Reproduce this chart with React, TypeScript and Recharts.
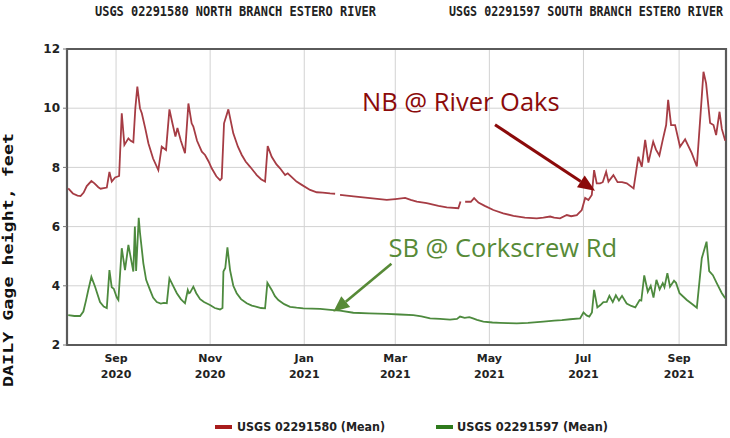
import React from 'react';
import { LineChart, Line, XAxis, YAxis, CartesianGrid, ReferenceArea, ReferenceDot } from 'recharts';

// Day 0 = 1 Aug 2020
const nbDays = [0, 3, 6, 8, 10, 12, 15, 17, 19.5, 21, 23, 25, 26.7, 28.2, 30.4, 33, 34.7, 36.4, 39, 40.5, 42.2, 43.5, 44.8, 46.5, 47.7, 50, 52, 55, 58.4, 60.6, 63.4, 65.6, 67.5, 69.5, 70.8, 73, 75.7, 77.9, 80, 81.1, 83.5, 86.6, 88.7, 91, 93, 96, 98.4, 99.5, 101, 103.8, 107, 110, 112.5, 115, 117.9, 122.2, 125, 127.6, 129.3, 131.9, 135, 137.3, 140.6, 142.3, 144.9, 148, 151.4, 156.8, 161.1, 165, 169.7, 173, 174.5, 176.2, 185, 195.7, 206.5, 212, 218.4, 222, 226, 232.4, 240, 245.4, 252.9, 254.3, 255.5, 257.3, 261, 263.1, 265.9, 270, 275.6, 282, 288.6, 296, 303.7, 308, 312.4, 315, 318.8, 323.2, 326, 329.7, 332.9, 335.1, 337.2, 339.4, 340.9, 342.6, 344.8, 346.5, 348.7, 350.2, 353.4, 356.1, 359, 362.1, 366.5, 369.6, 371.8, 374, 376.1, 379.2, 381, 383.2, 385.4, 387.6, 388.9, 390.8, 393.4, 396.6, 399.9, 404.2, 407.5, 410.7, 411.8, 413.5, 416.1, 418.3, 420, 422.2, 423.7, 425.9];
const nbGage = [7.29, 7.12, 7.05, 7.03, 7.15, 7.37, 7.54, 7.46, 7.33, 7.28, 7.3, 7.32, 7.85, 7.52, 7.66, 7.71, 9.83, 8.76, 8.98, 8.9, 8.85, 10.0, 10.73, 10.0, 9.83, 9.3, 8.81, 8.3, 7.91, 8.7, 8.59, 9.96, 9.5, 9.04, 9.33, 8.9, 8.48, 10.16, 9.49, 9.38, 8.9, 8.53, 8.42, 8.2, 7.97, 7.7, 7.57, 7.63, 9.49, 9.96, 9.15, 8.7, 8.42, 8.2, 8.02, 7.74, 7.6, 7.52, 8.72, 8.36, 8.1, 7.97, 7.74, 7.8, 7.67, 7.52, 7.41, 7.24, 7.16, 7.15, 7.12, 7.11, null, 7.07, 7.02, 6.96, 6.9, 6.93, 6.97, 6.9, 6.84, 6.79, 6.7, 6.65, 6.62, 6.85, null, 6.84, 6.84, 6.96, 6.81, 6.7, 6.56, 6.45, 6.36, 6.3, 6.28, 6.3, 6.34, 6.3, 6.28, 6.39, 6.35, 6.39, 6.56, 6.97, 6.9, 7.07, 7.91, 7.46, 7.46, 7.5, 7.85, 7.52, 7.74, 7.5, 7.5, 7.46, 7.29, 8.36, 8.02, 8.93, 8.16, 8.87, 8.6, 8.4, 8.93, 9.43, 10.28, 9.43, 9.43, 8.7, 8.95, 8.48, 8.03, 10.39, 11.23, 10.84, 9.5, 9.43, 9.09, 9.88, 9.3, 8.9];

const sbDays = [0, 4, 7.7, 9.8, 11.5, 13, 15, 17.4, 20.6, 23, 25, 26.7, 28.2, 29.5, 31.5, 32.5, 34.7, 36.8, 39, 42.2, 43.2, 44, 45.7, 46.5, 48.7, 50.5, 53, 55, 57.4, 60, 62, 63.9, 65.6, 68, 70.4, 73, 75.7, 77.5, 78.3, 79, 81.1, 83, 85.5, 88, 91.9, 95, 98.4, 100, 100.6, 101.8, 103.2, 104.9, 107, 109.2, 112, 115.7, 119, 122.2, 125, 127.6, 129.1, 131.9, 134, 136.2, 140, 143.8, 148, 152.4, 158, 163.3, 170, 176.2, 184.8, 195, 206.5, 215, 223.7, 229, 234.6, 241, 247.5, 252, 254, 257, 260, 262.4, 265, 269.1, 275, 279.9, 285, 290.8, 298, 308, 315, 320, 325.3, 331.8, 334, 336, 337.8, 339.5, 340.9, 343, 345, 346.9, 349.1, 350.8, 353, 355, 357, 359, 362, 365, 367.6, 370.4, 371.5, 373.4, 375.7, 377.6, 379.4, 381.3, 383.4, 385.4, 386.5, 388.4, 390.1, 392.7, 394, 396.3, 401, 404, 407.5, 410.7, 413.8, 415.5, 417.9, 420.4, 423.7, 425.9];
const sbGage = [3.01, 2.98, 2.98, 3.13, 3.5, 3.86, 4.3, 3.97, 3.45, 3.3, 3.25, 4.53, 3.95, 3.9, 3.6, 3.52, 5.27, 4.53, 5.38, 4.48, 6.0, 4.5, 6.3, 5.8, 4.76, 4.2, 3.86, 3.6, 3.45, 3.4, 3.42, 3.41, 4.25, 4.0, 3.75, 3.55, 3.41, 3.86, 3.75, 3.77, 3.97, 3.75, 3.55, 3.45, 3.35, 3.25, 3.2, 3.25, 4.48, 4.6, 5.3, 4.53, 4.0, 3.75, 3.55, 3.41, 3.33, 3.29, 3.25, 3.24, 4.1, 3.86, 3.65, 3.52, 3.38, 3.29, 3.26, 3.24, 3.23, 3.22, 3.19, 3.16, 3.09, 3.07, 3.05, 3.03, 3.01, 2.97, 2.9, 2.88, 2.86, 2.88, 2.96, 2.92, 2.94, 2.9, 2.85, 2.79, 2.76, 2.75, 2.74, 2.73, 2.75, 2.79, 2.82, 2.84, 2.87, 2.9, 3.1, 3.0, 2.96, 3.1, 3.86, 3.27, 3.35, 3.45, 3.46, 3.66, 3.45, 3.68, 3.5, 3.66, 3.4, 3.32, 3.27, 3.52, 3.5, 4.35, 3.8, 4.0, 3.6, 4.2, 3.88, 4.09, 3.95, 4.43, 3.97, 4.17, 4.1, 3.75, 3.52, 3.4, 3.26, 4.93, 5.49, 4.5, 4.36, 4.09, 3.75, 3.58];

const tickDays = [31, 92, 153, 212, 273, 334, 396];
const tickMonths = ['Sep', 'Nov', 'Jan', 'Mar', 'May', 'Jul', 'Sep'];
const tickYears = ['2020', '2020', '2021', '2021', '2021', '2021', '2021'];
const yTicks = [2, 4, 6, 8, 10, 12];

const nbName = 'USGS 02291580 (Mean)';
const sbName = 'USGS 02291597 (Mean)';
const nbTitle = 'USGS 02291580 NORTH BRANCH ESTERO RIVER';
const sbTitle = 'USGS 02291597 SOUTH BRANCH ESTERO RIVER';
const nbNote = 'NB @ River Oaks';
const sbNote = 'SB @ Corkscrew Rd';
const nbNotePoint = { day: 341.5, value: 7.21 };
const sbNotePoint = { day: 171.9, value: 3.12 };

const nbData = nbDays.map((d, i) => ({ day: d, v: nbGage[i] }));
const sbData = sbDays.map((d, i) => ({ day: d, v: sbGage[i] }));

const NB_COLOR = '#a63c44';
const SB_COLOR = '#4d8a3e';
const NB_NOTE = '#8b0a0a';
const SB_NOTE = '#578a37';

const XTick = (props: any) => {
  const { x, y, payload } = props;
  const i = tickDays.indexOf(payload.value);
  return (
    <g>
      <text x={x} y={y + 17} textAnchor="middle" fontFamily="DejaVu Sans" fontWeight="bold" fontSize={11} fill="#222">{tickMonths[i]}</text>
      <text x={x} y={y + 33} textAnchor="middle" fontFamily="DejaVu Sans" fontWeight="bold" fontSize={11} fill="#222">{tickYears[i]}</text>
    </g>
  );
};

const arrow = (cx: number, cy: number, tx: number, ty: number, color: string, w: number, hl: number, hw: number) => {
  const a = Math.atan2(cy - ty, cx - tx);
  const bx = cx - hl * Math.cos(a);
  const by = cy - hl * Math.sin(a);
  const s = Math.sin(a), c = Math.cos(a);
  return (
    <g>
      <line x1={tx} y1={ty} x2={bx} y2={by} stroke={color} strokeWidth={w} />
      <polygon points={`${cx},${cy} ${bx + hw * s},${by - hw * c} ${bx - hw * s},${by + hw * c}`} fill={color} />
    </g>
  );
};

const NbShape = (props: any) => {
  const { cx, cy } = props;
  return (
    <g>
      {arrow(cx, cy, cx - 100, cy - 66, NB_NOTE, 3, 17, 7)}
      <text x={cx - 233} y={cy - 80} fontFamily="Open Sans" fontSize={25.5} fill={NB_NOTE}>{nbNote}</text>
    </g>
  );
};

const SbShape = (props: any) => {
  const { cx, cy } = props;
  return (
    <g>
      {arrow(cx, cy, cx + 58, cy - 48, SB_NOTE, 2.6, 16, 7)}
      <text x={cx + 55} y={cy - 55} fontFamily="Open Sans" fontSize={25.5} fill={SB_NOTE}>{sbNote}</text>
    </g>
  );
};

export default function App() {
  return (
    <div style={{ position: 'relative', width: 730, height: 438, background: '#fff' }}>
      <style>{'body{margin:0;background:#fff}'}</style>
      <LineChart width={730} height={438} margin={{ top: 49, right: 4, left: 0, bottom: 53 }}>
        <CartesianGrid stroke="#d2d2d2" strokeWidth={1} />
        <XAxis
          dataKey="day"
          type="number"
          domain={[-0.8, 426.4]}
          ticks={tickDays}
          tick={<XTick />}
          tickLine={false}
          tickSize={0}
          tickMargin={0}
          axisLine={false}
          height={40}
          allowDataOverflow
        />
        <YAxis
          type="number"
          domain={[2, 12]}
          ticks={yTicks}
          width={67}
          axisLine={false}
          tickLine={{ stroke: '#777' }}
          tickSize={4}
          tickMargin={3}
          tick={{ fontFamily: 'DejaVu Sans', fontWeight: 'bold', fontSize: 12, fill: '#222' }}
        />
        <Line data={nbData} dataKey="v" name={nbName} type="linear" stroke={NB_COLOR} strokeWidth={1.8} dot={false} isAnimationActive={false} />
        <Line data={sbData} dataKey="v" name={sbName} type="linear" stroke={SB_COLOR} strokeWidth={1.8} dot={false} isAnimationActive={false} />
        <ReferenceArea x1={-0.8} x2={426.4} y1={2} y2={12} fill="none" stroke="#5a5a5a" strokeWidth={2.2} />
        <ReferenceDot x={nbNotePoint.day} y={nbNotePoint.value} r={0} shape={<NbShape />} />
        <ReferenceDot x={sbNotePoint.day} y={sbNotePoint.value} r={0} shape={<SbShape />} />
      </LineChart>
      <svg width={730} height={438} style={{ position: 'absolute', left: 0, top: 0, pointerEvents: 'none' }}>
        <text transform="translate(95,16) scale(1,1.3)" fontFamily="DejaVu Sans Mono" fontWeight="bold" fontSize={11.5} fill="#222" textLength={281} lengthAdjust="spacingAndGlyphs">{nbTitle}</text>
        <text transform="translate(449,16) scale(1,1.3)" fontFamily="DejaVu Sans Mono" fontWeight="bold" fontSize={11.5} fill="#222" textLength={274} lengthAdjust="spacingAndGlyphs">{sbTitle}</text>
        <text transform="translate(13,387) rotate(-90)" fontFamily="DejaVu Sans Mono" fontWeight="bold" fontSize={14} fill="#111" textLength={254} lengthAdjust="spacingAndGlyphs">DAILY Gage height, feet</text>
        <rect x={215} y={425} width={17} height={4} fill="#a81c1c" />
        <text x={237} y={431} fontFamily="DejaVu Sans Condensed" fontWeight="bold" fontSize={12} fill="#222" textLength={148} lengthAdjust="spacingAndGlyphs">{nbName}</text>
        <rect x={436} y={425} width={17} height={4} fill="#2e7a1c" />
        <text x={457} y={431} fontFamily="DejaVu Sans Condensed" fontWeight="bold" fontSize={12} fill="#222" textLength={151} lengthAdjust="spacingAndGlyphs">{sbName}</text>
      </svg>
    </div>
  );
}
